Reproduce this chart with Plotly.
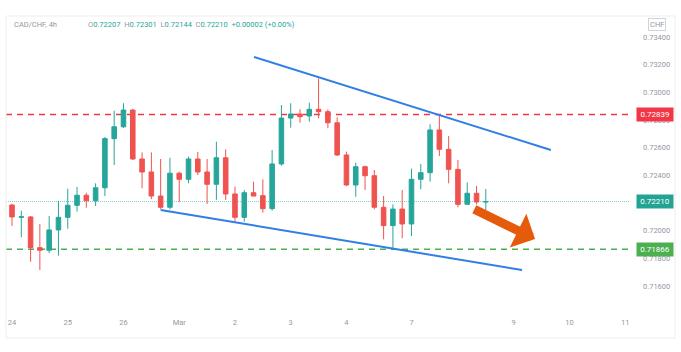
import plotly.graph_objects as go

# ---- data ----
opens = [0.72185, 0.72096, 0.72099, 0.71877, 0.71858, 0.72005, 0.72096, 0.72183, 0.72256, 0.72216,
         0.72310, 0.72665, 0.72751, 0.72872, 0.72518, 0.72424, 0.72250, 0.72169, 0.72415, 0.72371,
         0.72518, 0.72424, 0.72335, 0.72527, 0.72265, 0.72096, 0.72274, 0.72253, 0.72159, 0.72482,
         0.72814, 0.72843, 0.72829, 0.72877, 0.72860, 0.72780, 0.72547, 0.72330, 0.72462, 0.72397,
         0.72169, 0.72036, 0.72156, 0.72048, 0.72371, 0.72419, 0.72728, 0.72588, 0.72443, 0.72190,
         0.72270, 0.72207]
highs = [0.72193, 0.72144, 0.72106, 0.72048, 0.72106, 0.72216, 0.72303, 0.72316, 0.72274, 0.72342,
         0.72677, 0.72867, 0.72921, 0.72880, 0.72566, 0.72566, 0.72518, 0.72527, 0.72426, 0.72535,
         0.72569, 0.72518, 0.72643, 0.72588, 0.72318, 0.72294, 0.72354, 0.72371, 0.72583, 0.72908,
         0.72921, 0.72877, 0.72925, 0.73101, 0.72877, 0.72819, 0.72571, 0.72491, 0.72470, 0.72438,
         0.72250, 0.72190, 0.72294, 0.72448, 0.72482, 0.72769, 0.72839, 0.72684, 0.72511, 0.72349,
         0.72323, 0.72301]
lows = [0.72034, 0.71952, 0.71775, 0.71715, 0.71838, 0.71819, 0.72014, 0.72137, 0.72166, 0.72178,
        0.72250, 0.72475, 0.72742, 0.72510, 0.72306, 0.72227, 0.72156, 0.72154, 0.72207, 0.72342,
        0.72402, 0.72193, 0.72222, 0.72222, 0.72065, 0.72065, 0.72250, 0.72130, 0.72144, 0.72470,
        0.72744, 0.72780, 0.72788, 0.72812, 0.72740, 0.72540, 0.72322, 0.72245, 0.72294, 0.72154,
        0.71937, 0.71872, 0.71945, 0.71961, 0.72299, 0.72354, 0.72540, 0.72342, 0.72169, 0.72190,
        0.72190, 0.72144]
closes = [0.72099, 0.72100, 0.71877, 0.71858, 0.72005, 0.72096, 0.72183, 0.72256, 0.72216, 0.72310,
          0.72665, 0.72751, 0.72872, 0.72518, 0.72424, 0.72250, 0.72169, 0.72415, 0.72371, 0.72518,
          0.72424, 0.72335, 0.72527, 0.72265, 0.72096, 0.72274, 0.72250, 0.72159, 0.72482, 0.72814,
          0.72843, 0.72824, 0.72877, 0.72860, 0.72780, 0.72547, 0.72330, 0.72462, 0.72397, 0.72169,
          0.72036, 0.72156, 0.72048, 0.72371, 0.72419, 0.72728, 0.72588, 0.72443, 0.72190, 0.72270,
          0.72207, 0.72210]
bar_index = list(range(len(opens)))

tick_positions = [0, 6, 12, 18, 24, 30, 36, 43, 54, 60, 66]
tick_labels = ["24", "25", "26", "Mar", "2", "3", "4", "7", "9", "10", "11"]
# 0.72200 is fully hidden behind the last-price label in the reference
price_ticks = [0.716, 0.718, 0.720, 0.724, 0.726, 0.728, 0.730, 0.732, 0.734]

resistance = 0.72839
support = 0.71866
last_price = 0.72210

upper_trend_x = [26.05, 58.0]
upper_trend_y = [0.73255, 0.72583]
lower_trend_x = [16.0, 54.9]
lower_trend_y = [0.72149, 0.71715]
arrow_x = [49.6, 56.3]
arrow_y = [0.72160, 0.71940]

symbol_text = "CAD/CHF, 4h"
ohlc_text = ("<span style='color:#9598a1'>O</span>0.72207  <span style='color:#9598a1'>H</span>0.72301  "
             "<span style='color:#9598a1'>L</span>0.72144  <span style='color:#9598a1'>C</span>0.72210  "
             "+0.00002 (+0.00%)")

# ---- style ----
TEAL = "#26a69a"
RED = "#ef5350"
BLUE = "#2f7fe6"
ORANGE = "#e65a0c"
GREY = "#9598a1"
FONT = "Roboto"

fig = go.Figure()
fig.add_trace(go.Candlestick(
    x=bar_index, open=opens, high=highs, low=lows, close=closes,
    increasing=dict(line=dict(color=TEAL, width=1), fillcolor=TEAL),
    decreasing=dict(line=dict(color=RED, width=1), fillcolor=RED),
    whiskerwidth=0, hoverinfo="skip", showlegend=False,
))

# horizontal levels
fig.add_shape(type="line", xref="paper", x0=0, x1=1, yref="y", y0=resistance, y1=resistance,
              line=dict(color="#f23645", width=1.5, dash="6px,5px"), layer="below")
fig.add_shape(type="line", xref="paper", x0=0, x1=1, yref="y", y0=support, y1=support,
              line=dict(color="#4caf50", width=1.5, dash="6px,5px"), layer="below")
fig.add_shape(type="line", xref="paper", x0=0, x1=1, yref="y", y0=last_price, y1=last_price,
              line=dict(color="#7ccfc5", width=1, dash="1px,1px"), layer="below")

# trend lines
fig.add_shape(type="line", xref="x", yref="y", x0=upper_trend_x[0], x1=upper_trend_x[1],
              y0=upper_trend_y[0], y1=upper_trend_y[1], line=dict(color=BLUE, width=2))
fig.add_shape(type="line", xref="x", yref="y", x0=lower_trend_x[0], x1=lower_trend_x[1],
              y0=lower_trend_y[0], y1=lower_trend_y[1], line=dict(color=BLUE, width=2))

# chart frame
fig.add_shape(type="rect", xref="paper", yref="paper", x0=0, x1=(675 - 6) / 624,
              y0=-(338 - 311) / 295, y1=1, line=dict(color="#eceef2", width=1))

# orange arrow
fig.add_annotation(x=arrow_x[1], y=arrow_y[1], ax=arrow_x[0], ay=arrow_y[0],
                   xref="x", yref="y", axref="x", ayref="y", text="", showarrow=True,
                   arrowhead=1, arrowwidth=9, arrowsize=0.7, arrowcolor=ORANGE)

# price labels on the right axis
for val, col in [(resistance, "#f23645"), (last_price, "#22a394"), (support, "#4caf50")]:
    fig.add_annotation(xref="paper", x=1 + 6 / 624, xanchor="left", yref="y", y=val,
                       text=f"{val:.5f}", showarrow=False, bgcolor=col,
                       font=dict(color="white", size=8, family=FONT),
                       borderpad=2, width=32)

# header
fig.add_annotation(xref="paper", yref="paper", x=(12 - 6) / 624, y=1 - (25 - 16) / 295,
                   xanchor="left", yanchor="middle", text=symbol_text, showarrow=False,
                   font=dict(color=GREY, size=7.5, family=FONT))
fig.add_annotation(xref="paper", yref="paper", x=(86 - 6) / 624, y=1 - (25 - 16) / 295,
                   xanchor="left", yanchor="middle", text=ohlc_text, showarrow=False,
                   font=dict(color=TEAL, size=7.5, family=FONT))
fig.add_annotation(xref="paper", yref="paper", x=1 + 27 / 624, y=1 - (25 - 16) / 295,
                   xanchor="center", yanchor="middle", text="CHF", showarrow=False,
                   font=dict(color=GREY, size=7.5, family=FONT),
                   bordercolor="#d1d4dc", borderwidth=1, borderpad=1)

fig.update_layout(
    width=681, height=352,
    margin=dict(l=6, r=51, t=16, b=41),
    paper_bgcolor="white", plot_bgcolor="white",
    font=dict(family=FONT, size=7.5, color=GREY),
    hovermode=False,
    xaxis=dict(range=[-0.646, 66.52], rangeslider=dict(visible=False),
               tickmode="array", tickvals=tick_positions, ticktext=tick_labels,
               showgrid=False, zeroline=False, showline=False, ticks="",
               tickfont=dict(size=7.5, color=GREY), ticklabelstandoff=5, fixedrange=True),
    yaxis=dict(range=[0.714188, 0.7355184], side="right", tickmode="array",
               tickvals=price_ticks, ticktext=[f"{v:.5f}" for v in price_ticks],
               showgrid=False, zeroline=False, showline=False, ticks="",
               tickfont=dict(size=7.5, color=GREY), ticklabelstandoff=12, fixedrange=True),
)

fig.write_html("out.html")
